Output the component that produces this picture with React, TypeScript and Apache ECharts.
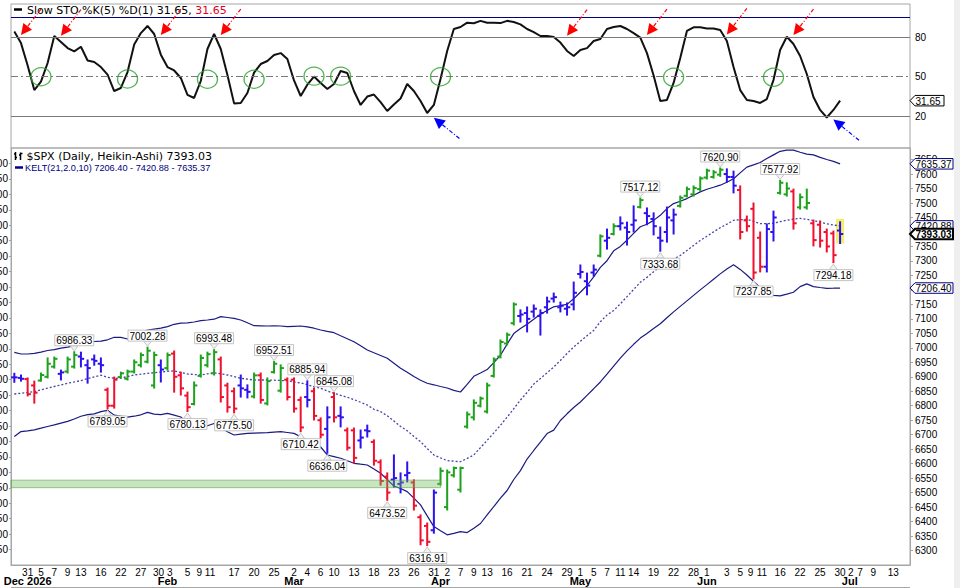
import React, { useEffect, useRef } from "react";
import * as echarts from "echarts";

// ---------------- data ----------------
const slotCount = 135;

const dayTickIndex = [2,4,6,8,10,13,16,19,22,23,26,28,29,33,36,39,42,44,46,48,51,54,57,60,63,65,67,69,71,74,77,80,83,85,87,89,91,93,96,99,102,104,107,109,111,112,115,118,121,124,126,127,129,132];
const dayTickText = ["31","5","7","9","13","16","22","27","30","3","5","9","11","17","20","25","2","4","6","10","13","18","23","26","31","2","7","9","13","16","21","24","29","1","5","7","11","14","19","22","28","1","3","5","9","11","16","22","25","30","2","7","9","13"];
const monthTickIndex = [2, 23, 42, 64, 85, 104, 126];
const monthTickText = ["Dec 2026", "Feb", "Mar", "Apr", "May", "Jun", "Jul"];

const barOpen = [6898,6896,6892,6870,6887,6900,6935,6910,6918,6935,
 6970,6940,6960,6945,6855,6800,6899,6893,6918,6940,
 6952,6870,6940,6930,6980,6905,6835,6806,6903,6940,
 6912,6960,6870,6850,6870,6855,6832,6905,6808,6916,
 6852,6890,6890,6820,6830,6850,6750,6720,6830,6765,
 6715,6715,6680,6715,6675,6605,6555,6545,6530,6560,
 6535,6415,6385,6370,6530,6450,6560,6510,6728,6760,
 6800,6780,6903,6970,7015,7085,7110,7120,7125,7110,
 7140,7170,7140,7135,7150,7255,7230,7260,7318,7370,
 7393,7420,7415,7425,7486,7465,7445,7380,7400,7440,
 7490,7525,7530,7548,7588,7590,7598,7600,7590,7545,
 7440,7480,7380,7280,7400,7535,7530,7540,7485,7485,
 7430,7425,7400,7395,7405];
const barHigh = [6912,6906,6896,6885,6913,6965,6968,6923,6968,6986.33,
 6985,6958,6975,6965,6861,6899,6916,6923,6958,6982,
 7002.28,6985,6958,6982,6989,6916,6847,6882,6975,6985,
 6993.48,6968,6878,6861,6906,6872,6913,6913,6896,6952.51,
 6941,6896,6896,6830,6885.94,6861,6758,6796,6845.08,6796,
 6723,6723,6716,6733,6682,6613,6568,6630,6568,6606,
 6544,6423,6395,6509,6585,6578,6588,6588,6778,6820,
 6830,6878,6965,7027,7051,7155,7131,7141,7148,7131,
 7175,7189,7158,7155,7227,7286,7258,7286,7390,7410,
 7428,7452,7434,7490,7517.12,7483,7466,7417,7486,7479,
 7524,7555,7559,7590,7617,7612,7620.90,7618,7610,7559,
 7455,7500,7400,7428,7472,7577.92,7570,7548,7531,7548,
 7441,7438,7410,7403,7435];
const barLow = [6881,6885,6834,6809,6885,6896,6930,6889,6913,6930,
 6934,6878,6940,6916,6789.05,6792,6896,6889,6913,6934,
 6948,6861,6882,6923,6847,6837,6780.13,6803,6899,6934,
 6906,6813,6778,6775.50,6830,6827,6827,6809,6803,6913,
 6847,6820,6778,6710.42,6796,6751,6689,6636.04,6744,6727,
 6647,6602,6654,6692,6595,6526,6473.52,6519,6499,6537,
 6440,6320,6316.91,6360,6526,6440,6554,6502,6723,6751,
 6796,6775,6899,6965,7010,7079,7089,7055,7106,7044,
 7120,7158,7124,7113,7131,7241,7183,7248,7314,7341,
 7390,7407,7355,7400,7483,7425,7390,7333.68,7365,7393,
 7486,7521,7524,7542,7583,7586,7592,7572,7535,7376,
 7403,7237.85,7262,7262,7369,7531,7524,7410,7479,7479,
 7352,7348,7331,7294.18,7360];
const barClose = [6898,6893,6840,6845,6906,6945,6962,6915,6960,6975,
 6962,6930,6955,6940,6800,6890,6912,6918,6950,6975,
 6990,6975,6925,6975,6900,6860,6795,6870,6965,6978,
 6985,6830,6795,6790,6860,6848,6905,6820,6885,6945,
 6930,6830,6790,6725,6820,6765,6700,6760,6760,6760,
 6655,6620,6690,6712,6610,6540,6500,6550,6535,6568,
 6455,6335,6330,6500,6575,6570,6585,6585,6770,6810,
 6825,6870,6960,7020,7045,7150,7115,7100,7135,7120,
 7160,7175,7145,7140,7190,7262,7215,7270,7385,7380,
 7420,7430,7400,7440,7510,7455,7420,7370,7450,7460,
 7518,7548,7552,7585,7612,7606,7615,7590,7560,7400,
 7420,7260,7280,7410,7450,7570,7550,7430,7520,7500,
 7372,7370,7350,7320,7393.03];
// g = green, b = blue, r = red (Heikin-Ashi colouring as drawn)
const barTone = ("bbrrgggbgg" + "bbbbrrgggg" + "ggbgrrrggg" + "grrrbbgrgg" + "grrrbrrbrb" +
  "rrbbrrrbbb" + "rrrbgggggg" + "ggggggbbbb" + "bbbbbbbbgb" + "gbbbgbbbbb" +
  "gggggggbbr" + "rrrbbggrgg" + "rrrrb").split("");

const keltUpper = [6984.5,6978.6,6978.6,6981.1,6984.9,6990.7,6993.5,6998.7,7002.5,7007.7,
 7013.5,7019,7021.8,7022.8,7027.7,7036.3,7036,7030.4,7039.1,7050.5,
 7061.5,7064.6,7067.7,7073.3,7081.2,7085,7086.4,7089.2,7093.6,7096.1,
 7098.8,7107.5,7104.7,7101.9,7096.1,7086.4,7076.4,7076,7075.3,7076,
 7075.3,7072.9,7074.3,7075.3,7072.2,7067.7,7061.5,7056.7,7052.2,7041.8,
 7031.5,7020.8,7007,6992.5,6982.8,6973.5,6963.8,6946.9,6929.6,6915.5,
 6900.6,6887.8,6877.5,6872.3,6866.4,6861.2,6852.9,6847.4,6873.7,6901.6,
 6913,6924.8,6948.9,6974.2,7012.8,7049.1,7066.4,7081.2,7098.5,7116.1,
 7129.2,7141.6,7146.1,7149.9,7169.6,7192,7215.2,7244.9,7278,7300.8,
 7335,7350.2,7371.6,7395.1,7418.2,7426.9,7440,7457.6,7480.8,7498,
 7506.3,7515.3,7527,7538.4,7547.7,7554.6,7561.6,7571.6,7583.7,7604,
 7624.1,7631.7,7640,7653.4,7666.2,7678.6,7682.8,7682.8,7675.2,7668.6,
 7666.2,7657.6,7650.3,7643.8,7635.37];
const keltMid = [6840.5,6843.3,6846,6849.1,6855,6860.9,6866.4,6871.9,6877.8,6882,
 6886.8,6893.7,6899.9,6905.4,6898.2,6894.7,6895,6900.9,6906.5,6908.9,
 6911.6,6914.1,6916.5,6918.9,6920.6,6914.8,6909.6,6907.9,6906.1,6910.3,
 6913.7,6910.3,6906.1,6900.3,6894.7,6891.6,6888.9,6888.9,6888.9,6888.2,
 6887.1,6886.4,6882.3,6878.5,6872.6,6866.4,6860.2,6850.9,6842.9,6836,
 6829.1,6821.2,6811.9,6802.5,6787.7,6779.7,6765.2,6747.6,6728.3,6713.8,
 6694.1,6675.8,6652.3,6629.9,6619.8,6610.5,6608.4,6606.7,6618.1,6629.9,
 6655.4,6680.3,6706.2,6732.4,6760.7,6789.7,6819.8,6846,6874.7,6893.7,
 6913.7,6933.8,6956.2,6980.4,7002.8,7022.5,7041.8,7060.1,7090.2,7113,
 7128.9,7151.7,7176.9,7201.4,7226.6,7243.2,7262.9,7280.8,7293.9,7306.4,
 7318.8,7336.1,7353.3,7370.6,7385.1,7400.3,7414.8,7426.9,7440.4,7442.4,
 7443.8,7436.9,7428.6,7428.6,7430,7435.5,7440.7,7444.1,7446.9,7443.8,
 7439.3,7434.1,7428.3,7423.8,7420.88];
const keltLower = [6693.7,6710.7,6713.4,6716.9,6722.4,6728.3,6733.8,6740,6746.2,6754.2,
 6763.8,6769.4,6772.1,6779.7,6784.2,6767.6,6763.8,6760.4,6763.8,6768.7,
 6777,6770.8,6769,6773.5,6767.6,6761.1,6738,6725.5,6722.4,6731,
 6738.6,6724.5,6710,6698.9,6702,6704.8,6705.5,6706.2,6706.9,6708.6,
 6710.3,6707.6,6704.5,6693.1,6681.7,6669.2,6657.5,6629.9,6624.3,6618.5,
 6609.8,6601.2,6598.1,6595.3,6581.2,6567,6544.9,6522.8,6514.2,6503.5,
 6481,6457.5,6419.6,6382.6,6368.1,6354.3,6359.1,6365,6361.9,6377.1,
 6393.3,6422.7,6452,6480.7,6507.3,6545.3,6576,6616,6645.4,6674.1,
 6703.8,6715.8,6749,6772.1,6793.9,6812.9,6836,6858.8,6882,6908.9,
 6936.9,6964.1,6989.4,7012.1,7033.6,7049.4,7066.4,7082.9,7104,7124,
 7143,7162,7181,7200,7218.3,7237,7255.3,7272.5,7286.7,7270.8,
 7251.5,7230,7207.6,7184.1,7181,7179.3,7185.2,7192,7211.4,7220.7,
 7211.4,7208.3,7205.5,7205.9,7206.40];

const stoK = [84.2,75.4,58.4,39.7,46.1,60.3,80.8,76.3,71.6,69.1,
 72.6,62.2,61,57.2,51.5,39,41.3,53.4,74.3,83,
 88.4,82.3,66.6,57.2,54.6,48.9,36,33.7,46.6,70.9,
 82.3,70.9,51.1,29.6,29.9,37.5,53,59.5,61.8,66.3,
 67.8,63.3,47,35.2,43.8,50,45.1,40.5,44.3,54.2,
 52.7,39,28.4,34.8,36.3,30.6,23.8,28.7,33.3,44.3,
 39,31.4,22.3,28.4,48.1,69.4,86.1,87.6,90.9,90.5,
 92.3,90.9,90.8,90.6,92.3,91.4,89.6,86.1,83.8,80.8,
 80.8,80,75.8,69.4,65.6,70.1,71.6,77,78.5,86.1,
 87.6,88.4,86.1,83,79.6,67.8,50.8,31.4,32.2,45.1,
 64.1,84.6,87.4,87.4,86.5,86.5,85.3,77,57.2,39.7,
 32.2,31.4,29.9,32.9,47.3,70.1,80.2,74.7,65.6,51.9,
 34.4,24.6,18.9,24.6,31.65];
const stoLevels = [80, 50, 20];
const stoTopRule = 95.2;

const crossCircleIndex = [4.35, 16.5, 28.5, 36.4, 45.1, 49.3, 64.3, 99.1, 114.1];
const crossCircleValue = [49.8, 48.1, 47.9, 47.9, 50.3, 50.3, 49.8, 49.4, 49.4];
const sellArrowIndex = [1, 7, 22, 31, 82.6, 94.6, 106.6, 116.5];
const sellArrowValue = [81.5, 81, 81.5, 81.5, 81, 81.5, 82, 81.5];
const buyArrowIndex = [62.8, 122.6];
const buyArrowValue = [18.7, 17.4];

const priceLabelIndex = [9, 20, 30, 39, 44, 48, 94, 106, 115, 14, 26, 33, 43, 47, 56, 62, 97, 111, 123];
const priceLabelValue = [6986.33, 7002.28, 6993.48, 6952.51, 6885.94, 6845.08, 7517.12, 7620.90, 7577.92,
  6789.05, 6780.13, 6775.50, 6710.42, 6636.04, 6473.52, 6316.91, 7333.68, 7237.85, 7294.18];
const priceLabelSide = [1, 1, 1, 1, 1, 1, 1, 1, 1, -1, -1, -1, -1, -1, -1, -1, -1, -1, -1];

const supportZone = [6517, 6543];
const supportZoneEndIndex = 63.6;
const highlightIndex = 124;

const stoLast = 31.65;
const keltLast = [7206.40, 7420.88, 7635.37];
const lastClose = 7393.03;
// right-axis ticks that sit completely under the value tags in the reference
const hiddenRightTicks = [7400, 7200];

// ---------------- layout / style ----------------
const GRID_LEFT = 11;
const GRID_WIDTH = 899;
const AXIS_GRAY = "#a6a6a6";
const TONE_COLOR: Record<string, string> = { g: "#1ea21e", b: "#2c12ee", r: "#f0102e" };
const NAVY = "#1a1a82";
const SANS = "Liberation Sans";
const VERDANA = "DejaVu Sans";
const dayShift: Record<number, number> = { 22: -2.4, 23: 2.2, 28: -1.4, 29: 2.6, 111: -3, 112: 1.8, 126: -2.6 };
const monthShift: Record<number, number> = { 126: -3.6 };

function padFor(shift: number | undefined) {
  if (!shift) return undefined;
  return shift < 0 ? [0, -2 * shift, 0, 0] : [0, 0, 0, 2 * shift];
}

export default function App() {
  const ref = useRef<HTMLDivElement>(null);

  useEffect(() => {
    document.body.style.margin = "0";
    document.body.style.overflow = "hidden";
    if (!ref.current) return;
    const chart = echarts.init(ref.current, undefined, { renderer: "svg" });

    const dayMap: Record<number, string> = {};
    dayTickIndex.forEach((idx, k) => (dayMap[idx] = dayTickText[k]));
    const monthMap: Record<number, string> = {};
    monthTickIndex.forEach((idx, k) => (monthMap[idx] = monthTickText[k]));

    const dayCats = Array.from({ length: slotCount }, (_, i) => {
      const p = padFor(dayShift[i]);
      return p ? { value: "d" + i, textStyle: { padding: p } } : { value: "d" + i };
    });
    const monthCats = Array.from({ length: slotCount }, (_, i) => {
      const p = padFor(monthShift[i]);
      return p ? { value: "m" + i, textStyle: { padding: p } } : { value: "m" + i };
    });
    const plainCats = Array.from({ length: slotCount }, (_, i) => "s" + i);

    const toneIndex: Record<string, number> = { g: 0, b: 1, r: 2 };
    const toneList = ["g", "b", "r"];
    const ohlcData = barOpen.map((o, i) => [i, o, barHigh[i], barLow[i], barClose[i], toneIndex[barTone[i]]]);

    const renderOhlc = (params: any, api: any) => {
      const i = api.value(0);
      const [x, yH] = api.coord([i, api.value(2)]);
      const yL = api.coord([i, api.value(3)])[1];
      const yO = api.coord([i, api.value(1)])[1];
      const yC = api.coord([i, api.value(4)])[1];
      const col = TONE_COLOR[toneList[api.value(5)]];
      const st = { stroke: col, lineWidth: 2 };
      return {
        type: "group",
        children: [
          { type: "line", shape: { x1: x, y1: yH - 0.5, x2: x, y2: yL + 0.5 }, style: st },
          { type: "line", shape: { x1: x - 3.2, y1: yO, x2: x, y2: yO }, style: st },
          { type: "line", shape: { x1: x, y1: yC, x2: x + 3.2, y2: yC }, style: st },
        ],
      };
    };

    const labelData = priceLabelIndex.map((idx, k) => [idx, priceLabelValue[k], priceLabelSide[k]]);
    const renderPriceLabel = (params: any, api: any) => {
      const [x, y] = api.coord([api.value(0), api.value(1)]);
      const side = api.value(2);
      const text = priceLabelValue[params.dataIndex].toFixed(2);
      const w = 39, h = 11;
      const baseY = side > 0 ? y - 6 : y + 7;
      const tipY = side > 0 ? y - 1 : y + 1.5;
      const boxY = side > 0 ? baseY - h : baseY;
      return {
        type: "group",
        children: [
          { type: "polygon", shape: { points: [[x - 4, baseY], [x, tipY], [x + 4, baseY]] }, style: { fill: "#f4f4f4", stroke: "#c4c4c4", lineWidth: 1 } },
          { type: "rect", shape: { x: x - w / 2, y: boxY, width: w, height: h }, style: { fill: "#fff", stroke: "#c4c4c4", lineWidth: 1 } },
          { type: "text", style: { text, x, y: boxY + h / 2 + 0.5, align: "center", verticalAlign: "middle", fontSize: 10, fontFamily: SANS, fill: "#000" } },
        ],
      };
    };

    const tagKinds = ["navy", "navy", "bold", "navy"];
    const mainTagValues = [keltLast[2], keltLast[1], lastClose, keltLast[0]];
    const mainTagOrder = [0, 1, 3, 2]; // draw bold one last
    const renderTag = (texts: string[], kinds: string[], w: number) => (params: any, api: any) => {
      const y = api.coord([0, api.value(1)])[1];
      const x0 = params.coordSys.x + params.coordSys.width;
      const kind = kinds[params.dataIndex];
      const h = 10.5;
      const stroke = kind === "navy" ? "#000080" : "#000";
      const lw = kind === "bold" ? 2 : 1;
      return {
        type: "group",
        children: [
          { type: "polygon", shape: { points: [[x0, y], [x0 + 5, y - h / 2], [x0 + w, y - h / 2], [x0 + w, y + h / 2], [x0 + 5, y + h / 2]] }, style: { fill: "#fff", stroke, lineWidth: lw } },
          { type: "text", style: { text: texts[params.dataIndex], x: x0 + 5.5, y: y + 0.5, align: "left", verticalAlign: "middle", fontSize: 10, fontWeight: kind === "bold" ? "bold" : "normal", fontFamily: SANS, fill: "#000" } },
        ],
      };
    };

    const renderArrow = (params: any, api: any) => {
      const [tx, ty] = api.coord([api.value(0), api.value(1)]);
      const kind = api.value(2);
      const color = kind === 0 ? "#ff0000" : "#0000ff";
      const dx = kind === 0 ? 20 : 27, dy = kind === 0 ? -26 : 22;
      const len = Math.hypot(dx, dy);
      const ux = dx / len, uy = dy / len;
      const hl = 11, hw = 5.5;
      const bx = tx + ux * hl, by = ty + uy * hl;
      const nx = -uy, ny = ux;
      return {
        type: "group",
        children: [
          { type: "line", shape: { x1: bx, y1: by, x2: tx + dx, y2: ty + dy }, style: { stroke: color, lineWidth: 1.2, lineDash: [4, 2, 1, 2] } },
          { type: "polygon", shape: { points: [[tx, ty], [bx + nx * hw, by + ny * hw], [bx - nx * hw, by - ny * hw]] }, style: { fill: color } },
        ],
      };
    };

    const renderZone = (params: any, api: any) => {
      const x0 = params.coordSys.x;
      const x1 = api.coord([api.value(0), api.value(1)])[0];
      const y1 = api.coord([api.value(0), api.value(2)])[1];
      const y2 = api.coord([api.value(0), api.value(1)])[1];
      return { type: "rect", shape: { x: x0, y: y1, width: x1 - x0, height: y2 - y1 }, style: { fill: "rgba(110,185,90,0.38)", stroke: "rgba(80,160,60,0.55)", lineWidth: 1 } };
    };

    const renderHighlight = (params: any, api: any) => {
      const [x, yT] = api.coord([api.value(0), api.value(1)]);
      const yB = api.coord([api.value(0), api.value(2)])[1];
      return { type: "rect", shape: { x: x - 4, y: yT - 3, width: 8, height: yB - yT + 3 }, style: { fill: "#f4ef6a" } };
    };

    const arrowData = [
      ...sellArrowIndex.map((idx, k) => [idx, sellArrowValue[k], 0]),
      ...buyArrowIndex.map((idx, k) => [idx, buyArrowValue[k], 1]),
    ];

    const plainNum = (v: number) => String(v);

    const option: any = {
      animation: false,
      backgroundColor: "#fff",
      textStyle: { fontFamily: SANS },
      grid: [
        { left: GRID_LEFT, top: 4, width: GRID_WIDTH, height: 144, show: true, borderColor: AXIS_GRAY, borderWidth: 1, containLabel: false, outerBoundsMode: "none" },
        { left: GRID_LEFT, top: 148, width: GRID_WIDTH, height: 417, show: true, borderColor: AXIS_GRAY, borderWidth: 1, containLabel: false, outerBoundsMode: "none" },
      ],
      xAxis: [
        { type: "category", gridIndex: 0, data: plainCats, boundaryGap: true, show: false },
        {
          type: "category", gridIndex: 1, data: dayCats, boundaryGap: true, position: "bottom",
          axisLine: { show: true, lineStyle: { color: AXIS_GRAY } }, axisTick: { show: false }, splitLine: { show: false },
          axisLabel: { interval: 0, margin: 3, lineHeight: 8, fontSize: 10, color: "#000", fontFamily: SANS, formatter: (_v: string, idx: number) => dayMap[idx] || "" },
        },
        {
          type: "category", gridIndex: 1, data: monthCats, boundaryGap: true, position: "bottom", offset: 11,
          axisLine: { show: false }, axisTick: { show: false }, splitLine: { show: false },
          axisLabel: { interval: 0, margin: 0, lineHeight: 10, fontSize: 11, fontWeight: "bold", color: "#000", fontFamily: SANS, formatter: (_v: string, idx: number) => monthMap[idx] || "" },
        },
      ],
      yAxis: [
        { type: "value", gridIndex: 0, min: -4.3, max: 105.1, position: "right", axisLine: { show: false }, axisTick: { show: false }, axisLabel: { show: false }, splitLine: { show: false } },
        {
          type: "value", gridIndex: 1, min: 6250, max: 7690, interval: 50, position: "right",
          axisLine: { show: true, lineStyle: { color: AXIS_GRAY } }, axisTick: { show: true, length: 3, lineStyle: { color: AXIS_GRAY } },
          axisLabel: { margin: 5, fontSize: 10, color: "#000", fontFamily: SANS, showMinLabel: false, showMaxLabel: false,
            formatter: (v: number) => (hiddenRightTicks.indexOf(v) >= 0 ? "" : String(v)) },
          splitLine: { show: false },
        },
        {
          type: "value", gridIndex: 1, min: 6300, max: 7650, interval: 50, position: "left",
          axisLine: { show: true, lineStyle: { color: AXIS_GRAY } }, axisTick: { show: true, length: 2, lineStyle: { color: AXIS_GRAY } },
          axisLabel: { margin: 3, fontSize: 10, color: "#000", fontFamily: SANS, showMinLabel: false, showMaxLabel: false, formatter: plainNum },
          splitLine: { show: false },
        },
      ],
      series: [
        {
          type: "line", xAxisIndex: 0, yAxisIndex: 0, data: stoK, showSymbol: false, symbol: "none", z: 4,
          lineStyle: { color: "#111", width: 2 },
          markLine: {
            silent: true, symbol: "none",
            label: { show: true, position: "end", formatter: "{c}", color: "#000", fontSize: 10, distance: 5, fontFamily: SANS },
            data: [
              ...stoLevels.map((lv) => ({ yAxis: lv, lineStyle: { color: "#7a7a7a", width: 1, type: lv === 50 ? [7, 3, 2, 3] : "solid" } })),
              { yAxis: stoTopRule, lineStyle: { color: "#000080", width: 1, type: "solid" }, label: { show: false } },
            ],
          },
        },
        {
          type: "scatter", xAxisIndex: 0, yAxisIndex: 0, z: 5, symbol: "circle", symbolSize: [20, 18], silent: true,
          data: crossCircleIndex.map((idx, k) => [idx, crossCircleValue[k]]),
          itemStyle: { color: "rgba(0,0,0,0)", borderColor: "#2aa02a", borderWidth: 1.3 },
        },
        { type: "custom", xAxisIndex: 0, yAxisIndex: 0, z: 6, clip: false, silent: true, data: arrowData, renderItem: renderArrow },
        { type: "custom", xAxisIndex: 0, yAxisIndex: 0, z: 7, clip: false, silent: true, data: [[0, stoLast]], renderItem: renderTag([stoLast.toFixed(2)], ["plain"], 34) },

        { type: "custom", xAxisIndex: 1, yAxisIndex: 1, z: 1, silent: true, data: [[highlightIndex, barHigh[highlightIndex], barLow[highlightIndex]]], renderItem: renderHighlight },
        { type: "line", xAxisIndex: 1, yAxisIndex: 1, data: keltUpper, showSymbol: false, symbol: "none", z: 2, lineStyle: { color: NAVY, width: 1.2 } },
        { type: "line", xAxisIndex: 1, yAxisIndex: 1, data: keltMid, showSymbol: false, symbol: "none", z: 2, lineStyle: { color: "#4444aa", width: 1.3, type: [2, 2] } },
        { type: "line", xAxisIndex: 1, yAxisIndex: 1, data: keltLower, showSymbol: false, symbol: "none", z: 2, lineStyle: { color: NAVY, width: 1.2 } },
        { type: "custom", xAxisIndex: 1, yAxisIndex: 1, z: 3, silent: true, data: ohlcData, renderItem: renderOhlc },
        { type: "custom", xAxisIndex: 1, yAxisIndex: 1, z: 4, silent: true, data: [[supportZoneEndIndex, supportZone[0], supportZone[1]]], renderItem: renderZone },
        { type: "custom", xAxisIndex: 1, yAxisIndex: 1, z: 5, silent: true, data: labelData, renderItem: renderPriceLabel },
        {
          type: "custom", xAxisIndex: 1, yAxisIndex: 1, z: 6, clip: false, silent: true,
          data: mainTagOrder.map((k) => [0, mainTagValues[k]]),
          renderItem: renderTag(mainTagOrder.map((k) => mainTagValues[k].toFixed(2)), mainTagOrder.map((k) => tagKinds[k]), 43),
        },
      ],
      graphic: [
        { type: "rect", left: 954, top: 0, shape: { width: 6, height: 588 }, style: { fill: "#efefef" }, silent: true },
        { type: "line", shape: { x1: GRID_LEFT, y1: 587.5, x2: GRID_LEFT + GRID_WIDTH, y2: 587.5 }, style: { stroke: AXIS_GRAY, lineWidth: 1 }, silent: true },
        { type: "line", shape: { x1: 14, y1: 9.5, x2: 22, y2: 9.5 }, style: { stroke: "#000", lineWidth: 2.5 }, silent: true },
        {
          type: "text", x: 27, y: 10, silent: true,
          style: {
            text: "{a|Slow STO %K(5) %D(1) " + stoLast.toFixed(2) + ", }{b|" + stoLast.toFixed(2) + "}",
            verticalAlign: "middle",
            rich: { a: { fill: "#000", fontSize: 11, fontFamily: VERDANA }, b: { fill: "#e8001c", fontSize: 11, fontFamily: VERDANA } },
          },
        },
        { type: "polyline", shape: { points: [[14, 154], [15.5, 154], [15.5, 152], [15.5, 160], [15.5, 157.5], [17, 157.5]] }, style: { stroke: "#000", lineWidth: 1.5, fill: "none" }, silent: true },
        { type: "polyline", shape: { points: [[19, 155], [20.5, 155], [20.5, 152.5], [20.5, 160], [20.5, 153.5], [22.5, 153.5]] }, style: { stroke: "#000", lineWidth: 1.5, fill: "none" }, silent: true },
        { type: "text", x: 26.5, y: 156.5, silent: true, style: { text: "$SPX (Daily, Heikin-Ashi) " + lastClose.toFixed(2), verticalAlign: "middle", fill: "#000", fontSize: 11, fontFamily: VERDANA } },
        { type: "line", shape: { x1: 15, y1: 167.5, x2: 23, y2: 167.5 }, style: { stroke: "#000080", lineWidth: 2.5 }, silent: true },
        {
          type: "text", x: 25, y: 168, silent: true,
          style: { text: "KELT(21,2.0,10) " + keltLast[0].toFixed(2) + " - " + keltLast[1].toFixed(2) + " - " + keltLast[2].toFixed(2), verticalAlign: "middle", fill: "#000080", fontSize: 9.2, fontFamily: SANS },
        },
      ],
    };

    chart.setOption(option);
    return () => chart.dispose();
  }, []);

  return <div ref={ref} style={{ width: 960, height: 588 }} />;
}
